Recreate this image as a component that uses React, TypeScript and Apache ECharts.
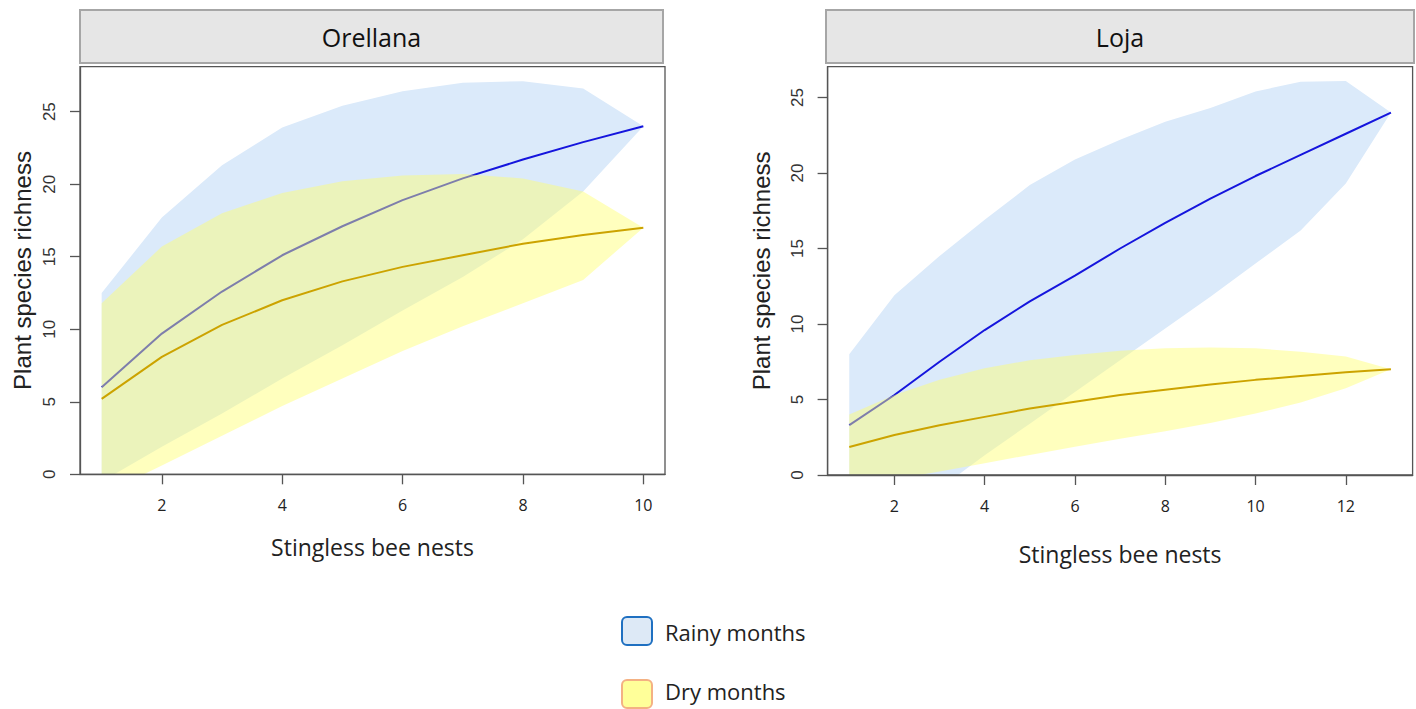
import React, { useEffect, useRef } from "react";
import * as echarts from "echarts";

// ---- Data ----
const orellanaX = [1, 2, 3, 4, 5, 6, 7, 8, 9, 10];
const orellanaRainyMean = [6.0, 9.7, 12.6, 15.1, 17.1, 18.9, 20.4, 21.7, 22.9, 24.0];
const orellanaRainyUpper = [12.5, 17.7, 21.3, 23.9, 25.4, 26.4, 27.0, 27.1, 26.6, 24.0];
const orellanaRainyLower = [-0.5, 1.9, 4.2, 6.6, 8.9, 11.3, 13.6, 16.2, 19.5, 24.0];
const orellanaDryMean = [5.2, 8.1, 10.3, 12.0, 13.3, 14.3, 15.1, 15.9, 16.5, 17.0];
const orellanaDryUpper = [11.8, 15.7, 18.0, 19.4, 20.2, 20.6, 20.7, 20.4, 19.5, 17.0];
const orellanaDryLower = [-1.4, 0.6, 2.65, 4.7, 6.6, 8.5, 10.2, 11.8, 13.4, 17.0];

const lojaX = [1, 2, 3, 4, 5, 6, 7, 8, 9, 10, 11, 12, 13];
const lojaRainyMean = [3.3, 5.3, 7.5, 9.6, 11.5, 13.2, 15.0, 16.7, 18.3, 19.8, 21.2, 22.6, 24.0];
const lojaRainyUpper = [8.0, 11.9, 14.5, 16.9, 19.2, 20.9, 22.2, 23.4, 24.3, 25.4, 26.05, 26.1, 24.0];
const lojaRainyLower = [-5.2, -3.1, -0.9, 1.3, 3.4, 5.5, 7.6, 9.7, 11.8, 14.0, 16.2, 19.3, 24.0];
const lojaDryMean = [1.85, 2.65, 3.3, 3.85, 4.4, 4.85, 5.3, 5.65, 6.0, 6.3, 6.55, 6.8, 7.0];
const lojaDryUpper = [4.0, 5.3, 6.3, 7.07, 7.6, 7.95, 8.23, 8.39, 8.45, 8.39, 8.17, 7.84, 7.0];
const lojaDryLower = [-0.85, -0.3, 0.24, 0.78, 1.33, 1.87, 2.4, 2.9, 3.45, 4.08, 4.8, 5.75, 7.0];

const panelTitles = ["Orellana", "Loja"];
const xTitle = "Stingless bee nests";
const yTitle = "Plant species richness";
const legendLabels = ["Rainy months", "Dry months"];
const orellanaXTicks = [2, 4, 6, 8, 10];
const lojaXTicks = [2, 4, 6, 8, 10, 12];
const yTicks = [0, 5, 10, 15, 20, 25];

// ---- Styles ----
const RAINY_FILL = "#dbeafa";
const DRY_FILL = "rgba(255,255,110,0.45)";
const RAINY_LINE = "#1515dd";
const DRY_LINE = "#cca300";
const AXIS_COLOR = "#555";
const SANS = "'Liberation Sans', Arial, sans-serif";
const UI = "'Open Sans', 'Noto Sans', sans-serif";

function bandSeries(
  name: string,
  xs: number[],
  lower: number[],
  upper: number[],
  gridIndex: number,
  fill: string,
  z: number
) {
  return {
    name,
    type: "custom",
    xAxisIndex: gridIndex,
    yAxisIndex: gridIndex,
    z,
    silent: true,
    data: xs.map((x, i) => [x, lower[i], upper[i]]),
    encode: { x: 0, y: [1, 2] },
    renderItem: (params: any, api: any) => {
      if (params.dataIndex !== 0) return null;
      const n = params.dataInsideLength;
      const top: number[][] = [];
      const bottom: number[][] = [];
      for (let i = 0; i < n; i++) {
        const x = api.value(0, i);
        top.push(api.coord([x, api.value(2, i)]));
        bottom.push(api.coord([x, api.value(1, i)]));
      }
      const points = top.concat(bottom.reverse());
      const cs = params.coordSys;
      return {
        type: "polygon",
        shape: { points },
        style: { fill, stroke: "none" },
        clipPath: {
          type: "rect",
          shape: { x: cs.x, y: cs.y, width: cs.width, height: cs.height },
        },
      };
    },
  };
}

function lineSeries(name: string, xs: number[], ys: number[], gridIndex: number, color: string, z: number) {
  return {
    name,
    type: "line",
    xAxisIndex: gridIndex,
    yAxisIndex: gridIndex,
    z,
    silent: true,
    showSymbol: false,
    symbol: "none",
    data: xs.map((x, i) => [x, ys[i]]),
    lineStyle: { color, width: 2 },
  };
}

function xAxisDef(gridIndex: number, min: number, max: number, ticks: number[], gap: number) {
  return {
    gridIndex,
    type: "value",
    min,
    max,
    z: 10,
    axisLine: { show: true, onZero: false, lineStyle: { color: AXIS_COLOR, width: 1.3 } },
    axisTick: { show: true, length: 10, customValues: ticks, lineStyle: { color: AXIS_COLOR, width: 1.3 } },
    axisLabel: { customValues: ticks, margin: 23, fontSize: 16, color: "#222", fontFamily: UI },
    splitLine: { show: false },
    name: xTitle,
    nameLocation: "middle",
    nameGap: gap,
    nameTextStyle: { fontSize: 23, color: "#222", fontFamily: UI },
  };
}

function yAxisDef(gridIndex: number, max: number, gap: number) {
  return {
    gridIndex,
    type: "value",
    min: 0,
    max,
    z: 10,
    axisLine: { show: true, lineStyle: { color: AXIS_COLOR, width: 1.3 } },
    axisTick: { show: true, length: 10, customValues: yTicks, lineStyle: { color: AXIS_COLOR, width: 1.3 } },
    axisLabel: { customValues: yTicks, rotate: 90, margin: 22, fontSize: 17, color: "#333", fontFamily: SANS },
    splitLine: { show: false },
    name: yTitle,
    nameLocation: "middle",
    nameRotate: 90,
    nameGap: gap,
    nameTextStyle: { fontSize: 24, color: "#222", fontFamily: SANS },
  };
}

function header(x: number, width: number, label: string) {
  return [
    {
      type: "rect",
      shape: { x, y: 10, width, height: 53 },
      style: { fill: "#e6e6e6", stroke: "#a6a6a6", lineWidth: 2 },
    },
    {
      type: "text",
      x: x + width / 2,
      y: 37,
      style: {
        text: label,
        fontSize: 25,
        fontFamily: UI,
        fill: "#111",
        align: "center",
        verticalAlign: "middle",
      },
    },
  ];
}

export default function App() {
  const ref = useRef<HTMLDivElement>(null);
  useEffect(() => {
    if (!ref.current) return;
    const chart = echarts.init(ref.current, undefined, { renderer: "svg" });
    const option: any = {
      animation: false,
      backgroundColor: "#fff",
      grid: [
        { left: 80, top: 66.7, width: 585, height: 407.6, show: true, borderColor: AXIS_COLOR, borderWidth: 1.3, z: 10 },
        { left: 827.6, top: 66.7, width: 585, height: 408.3, show: true, borderColor: AXIS_COLOR, borderWidth: 1.3, z: 10 },
      ],
      xAxis: [xAxisDef(0, 0.64, 10.36, orellanaXTicks, 61), xAxisDef(1, 0.52, 13.48, lojaXTicks, 67)],
      yAxis: [yAxisDef(0, 28.1, 46), yAxisDef(1, 27.04, 54)],
      series: [
        bandSeries("Rainy band Orellana", orellanaX, orellanaRainyLower, orellanaRainyUpper, 0, RAINY_FILL, 1),
        lineSeries("Rainy months Orellana", orellanaX, orellanaRainyMean, 0, RAINY_LINE, 2),
        bandSeries("Dry band Orellana", orellanaX, orellanaDryLower, orellanaDryUpper, 0, DRY_FILL, 3),
        lineSeries("Dry months Orellana", orellanaX, orellanaDryMean, 0, DRY_LINE, 4),
        bandSeries("Rainy band Loja", lojaX, lojaRainyLower, lojaRainyUpper, 1, RAINY_FILL, 1),
        lineSeries("Rainy months Loja", lojaX, lojaRainyMean, 1, RAINY_LINE, 2),
        bandSeries("Dry band Loja", lojaX, lojaDryLower, lojaDryUpper, 1, DRY_FILL, 3),
        lineSeries("Dry months Loja", lojaX, lojaDryMean, 1, DRY_LINE, 4),
      ],
      graphic: [
        ...header(80, 583, panelTitles[0]),
        ...header(826, 588, panelTitles[1]),
        {
          type: "rect",
          shape: { x: 622, y: 617, width: 30, height: 28, r: 5 },
          style: { fill: "#dde9f6", stroke: "#1f70c1", lineWidth: 2 },
        },
        {
          type: "text",
          x: 665,
          y: 632,
          style: { text: legendLabels[0], fontSize: 22, fontFamily: UI, fill: "#222", verticalAlign: "middle" },
        },
        {
          type: "rect",
          shape: { x: 622, y: 680, width: 30, height: 28, r: 5 },
          style: { fill: "#ffff99", stroke: "#f4b183", lineWidth: 2 },
        },
        {
          type: "text",
          x: 665,
          y: 691,
          style: { text: legendLabels[1], fontSize: 22, fontFamily: UI, fill: "#222", verticalAlign: "middle" },
        },
      ],
    };
    chart.setOption(option);
    return () => chart.dispose();
  }, []);
  return (
    <div
      ref={ref}
      style={{ position: "fixed", left: 0, top: 0, width: 1416, height: 709, background: "#fff" }}
    />
  );
}
